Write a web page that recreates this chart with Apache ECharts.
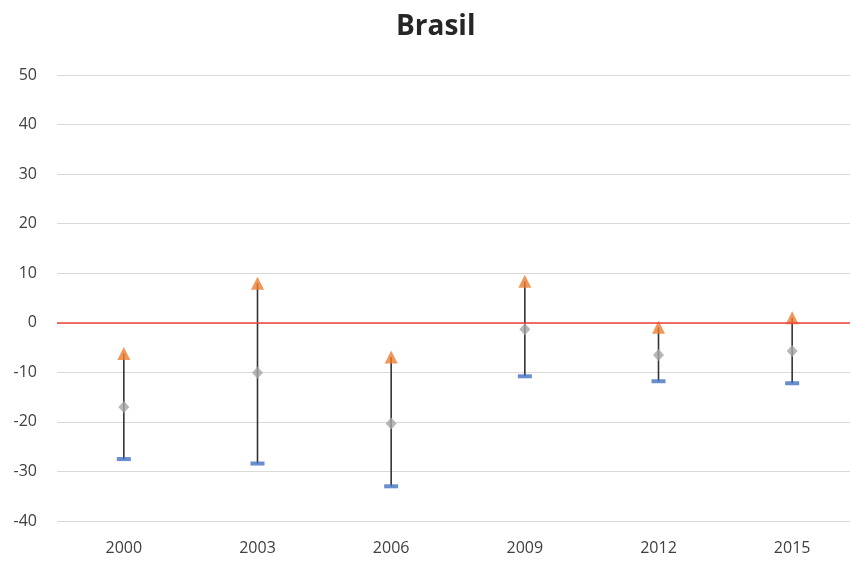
<!DOCTYPE html>
<html>
<head>
<meta charset="utf-8">
<script src="https://cdn.jsdelivr.net/npm/echarts@6/dist/echarts.min.js"></script>
<style>
  html, body { margin: 0; padding: 0; background: #ffffff; }
  #chart { width: 850px; height: 561px; }
</style>
</head>
<body>
<div id="chart"></div>
<script>
// Brasil: range per year (low / mid / high)
const years = ['2000', '2003', '2006', '2009', '2012', '2015'];
const lowValues = [-27.5, -28.4, -33.0, -10.8, -11.8, -12.2];
const midValues = [-17.0, -10.1, -20.3, -1.3, -6.5, -5.7];
const highValues = [-6.2, 8.0, -6.9, 8.4, -0.9, 1.0];
const yTicks = [-40, -30, -20, -10, 0, 10, 20, 30, 40, 50];

const rangeData = years.map((y, i) => [i, lowValues[i], highValues[i]]);

const chart = echarts.init(document.getElementById('chart'), null, { renderer: 'canvas' });

const labelFont = '"Open Sans", "Liberation Sans", sans-serif';

chart.setOption({
  backgroundColor: '#ffffff',
  animation: false,
  title: {
    text: 'Brasil',
    left: 396,
    top: 13,
    padding: 0,
    textStyle: { fontFamily: labelFont, fontSize: 28, fontWeight: 'bold', color: '#262626' }
  },
  grid: { left: 57, top: 75, width: 802, height: 446, containLabel: false, outerBoundsMode: 'none' },
  xAxis: {
    type: 'category',
    data: years,
    axisLine: { show: false },
    axisTick: { show: false },
    axisLabel: { color: '#404040', fontSize: 16, fontFamily: labelFont, margin: 19 },
    splitLine: { show: false }
  },
  yAxis: {
    type: 'value',
    min: yTicks[0],
    max: yTicks[yTicks.length - 1],
    interval: 10,
    axisLine: { show: false },
    axisTick: { show: false },
    axisLabel: { color: '#404040', fontSize: 16, fontFamily: labelFont, margin: 20 },
    splitLine: { lineStyle: { color: '#d9d9d9', width: 1.2 } }
  },
  series: [
    {
      // vertical range stems from low to high
      type: 'custom',
      data: rangeData,
      z: 2,
      renderItem: function (params, api) {
        const lo = api.coord([api.value(0), api.value(1)]);
        const hi = api.coord([api.value(0), api.value(2)]);
        return {
          type: 'line',
          shape: { x1: lo[0], y1: lo[1], x2: hi[0], y2: hi[1] },
          style: { stroke: '#333333', lineWidth: 1.6 }
        };
      },
      markLine: {
        silent: true,
        symbol: 'none',
        label: { show: false },
        lineStyle: { color: '#f0413a', width: 1.6, type: 'solid' },
        data: [{ yAxis: 0 }]
      }
    },
    {
      name: 'Low',
      type: 'scatter',
      data: lowValues,
      symbol: 'rect',
      symbolSize: [14, 4],
      itemStyle: { color: '#4472c4' },
      z: 3
    },
    {
      name: 'Mid',
      type: 'scatter',
      data: midValues,
      symbol: 'diamond',
      symbolSize: [11, 12],
      itemStyle: { color: '#a5a5a5' },
      z: 3
    },
    {
      name: 'High',
      type: 'scatter',
      data: highValues,
      symbol: 'triangle',
      symbolSize: [13, 13],
      itemStyle: { color: '#ed7d31' },
      z: 3
    }
  ]
});
</script>
</body>
</html>
